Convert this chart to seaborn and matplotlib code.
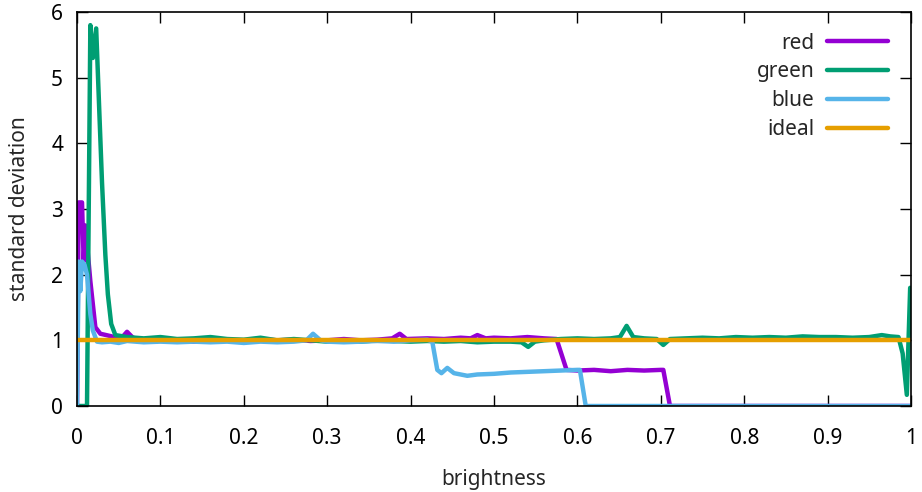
import pandas as pd
import matplotlib
matplotlib.use("Agg")
import matplotlib.pyplot as plt
import seaborn as sns

# (brightness, standard deviation)
red = [(0, 0), (0.002, 3.1), (0.006, 3.1), (0.008, 2.2), (0.010, 2.75), (0.016, 1.9),
       (0.022, 1.2), (0.028, 1.1), (0.035, 1.08), (0.045, 1.05), (0.053, 1.03), (0.060, 1.13),
       (0.067, 1.04), (0.08, 1.0), (0.10, 1.02), (0.12, 1.0), (0.14, 0.98), (0.16, 1.01),
       (0.18, 1.0), (0.20, 0.99), (0.22, 1.02), (0.24, 1.0), (0.26, 1.01), (0.28, 0.99),
       (0.30, 1.0), (0.32, 1.02), (0.34, 1.0), (0.36, 1.01), (0.378, 1.03), (0.387, 1.1),
       (0.395, 1.02), (0.42, 1.03), (0.44, 1.02), (0.46, 1.04), (0.472, 1.03), (0.48, 1.08),
       (0.49, 1.03), (0.50, 1.04), (0.52, 1.03), (0.54, 1.05), (0.56, 1.03), (0.575, 1.02),
       (0.587, 0.55), (0.60, 0.54), (0.62, 0.55), (0.64, 0.53), (0.66, 0.55), (0.68, 0.54),
       (0.70, 0.55), (0.703, 0.55), (0.711, 0), (1.0, 0)]

green = [(0, 0), (0.012, 0), (0.016, 5.8), (0.019, 5.3), (0.023, 5.75), (0.027, 4.4),
         (0.030, 3.4), (0.034, 2.3), (0.037, 1.7), (0.041, 1.25), (0.046, 1.08), (0.06, 1.05),
         (0.08, 1.03), (0.10, 1.05), (0.12, 1.02), (0.14, 1.03), (0.16, 1.05), (0.18, 1.02),
         (0.20, 1.01), (0.22, 1.04), (0.24, 1.0), (0.26, 1.02), (0.28, 1.0), (0.30, 0.98),
         (0.32, 1.0), (0.34, 0.98), (0.36, 1.0), (0.38, 0.99), (0.40, 0.98), (0.42, 0.99),
         (0.44, 0.98), (0.46, 0.99), (0.48, 0.97), (0.50, 0.98), (0.52, 0.98), (0.533, 0.97),
         (0.541, 0.9), (0.549, 0.98), (0.56, 1.0), (0.58, 1.02), (0.60, 1.03), (0.62, 1.02),
         (0.64, 1.03), (0.651, 1.05), (0.659, 1.22), (0.667, 1.05), (0.68, 1.03), (0.695, 1.02),
         (0.703, 0.93), (0.711, 1.02), (0.73, 1.03), (0.75, 1.04), (0.77, 1.03), (0.79, 1.05),
         (0.81, 1.04), (0.83, 1.05), (0.85, 1.04), (0.87, 1.06), (0.89, 1.05), (0.91, 1.05),
         (0.93, 1.04), (0.95, 1.05), (0.965, 1.08), (0.975, 1.06), (0.985, 1.05), (0.990, 0.8),
         (0.995, 0.17), (0.999, 1.8)]

blue = [(0, 0), (0.002, 2.2), (0.004, 1.75), (0.006, 2.2), (0.009, 2.15), (0.012, 2.0),
        (0.016, 1.4), (0.019, 1.15), (0.024, 0.98), (0.03, 0.97), (0.04, 0.98), (0.05, 0.96),
        (0.06, 0.99), (0.08, 0.97), (0.10, 0.98), (0.12, 0.97), (0.14, 0.98), (0.16, 0.97),
        (0.18, 0.98), (0.20, 0.96), (0.22, 0.98), (0.24, 0.97), (0.26, 0.98), (0.275, 1.0),
        (0.283, 1.1), (0.292, 1.0), (0.30, 0.98), (0.32, 0.97), (0.34, 0.98), (0.36, 0.99),
        (0.38, 0.98), (0.40, 1.0), (0.42, 1.01), (0.426, 0.98), (0.432, 0.55), (0.437, 0.5),
        (0.444, 0.58), (0.452, 0.5), (0.468, 0.46), (0.48, 0.48), (0.50, 0.49), (0.52, 0.51),
        (0.54, 0.52), (0.56, 0.53), (0.58, 0.54), (0.60, 0.55), (0.603, 0.55), (0.61, 0),
        (1.0, 0)]

ideal = [(0, 1.0), (1.0, 1.0)]

series = {"red": red, "green": green, "blue": blue, "ideal": ideal}
colors = {"red": "#9400D3", "green": "#009E73", "blue": "#56B4E9", "ideal": "#E69F00"}

rows = []
for name, pts in series.items():
    for x, y in pts:
        rows.append({"brightness": x, "std": y, "channel": name})
df = pd.DataFrame(rows)

sns.set_style("white")
plt.rcParams.update({
    'font.family': ['Noto Sans', 'DejaVu Sans'],
    'font.size': 15,
    'xtick.direction': 'in', 'ytick.direction': 'in',
    'xtick.major.size': 8, 'ytick.major.size': 8,
    'xtick.major.width': 1, 'ytick.major.width': 1,
    'xtick.major.pad': 15.8, 'ytick.major.pad': 10,
    'xtick.top': True, 'ytick.right': True,
    'xtick.bottom': True, 'ytick.left': True,
    'xtick.color': 'black', 'ytick.color': 'black',
})

fig = plt.figure(figsize=(9.22, 4.92), dpi=100)
ax = fig.add_axes([77 / 922, 1 - 406 / 492, 834 / 922, 394 / 492])

sns.lineplot(data=df, x="brightness", y="std", hue="channel", palette=colors,
             estimator=None, sort=False, linewidth=3.2, ax=ax)

ax.set_xlim(0, 1)
ax.set_ylim(0, 6)
ax.set_xticks([0, 0.1, 0.2, 0.3, 0.4, 0.5, 0.6, 0.7, 0.8, 0.9, 1])
ax.set_xticklabels(["0", "0.1", "0.2", "0.3", "0.4", "0.5", "0.6", "0.7", "0.8", "0.9", "1"])
ax.set_yticks([0, 1, 2, 3, 4, 5, 6])
for sp in ax.spines.values():
    sp.set_color("black")
    sp.set_linewidth(1.2)

ax.set_xlabel("brightness", fontsize=15, labelpad=14.8)
ax.set_ylabel("standard deviation", fontsize=15, labelpad=15)

ax.legend(loc="upper right", bbox_to_anchor=(0.982, 0.969), borderaxespad=0,
          frameon=False, markerfirst=False, handlelength=2.9, handletextpad=0.62,
          labelspacing=0.38, fontsize=15)

fig.savefig("out.png", dpi=100)
